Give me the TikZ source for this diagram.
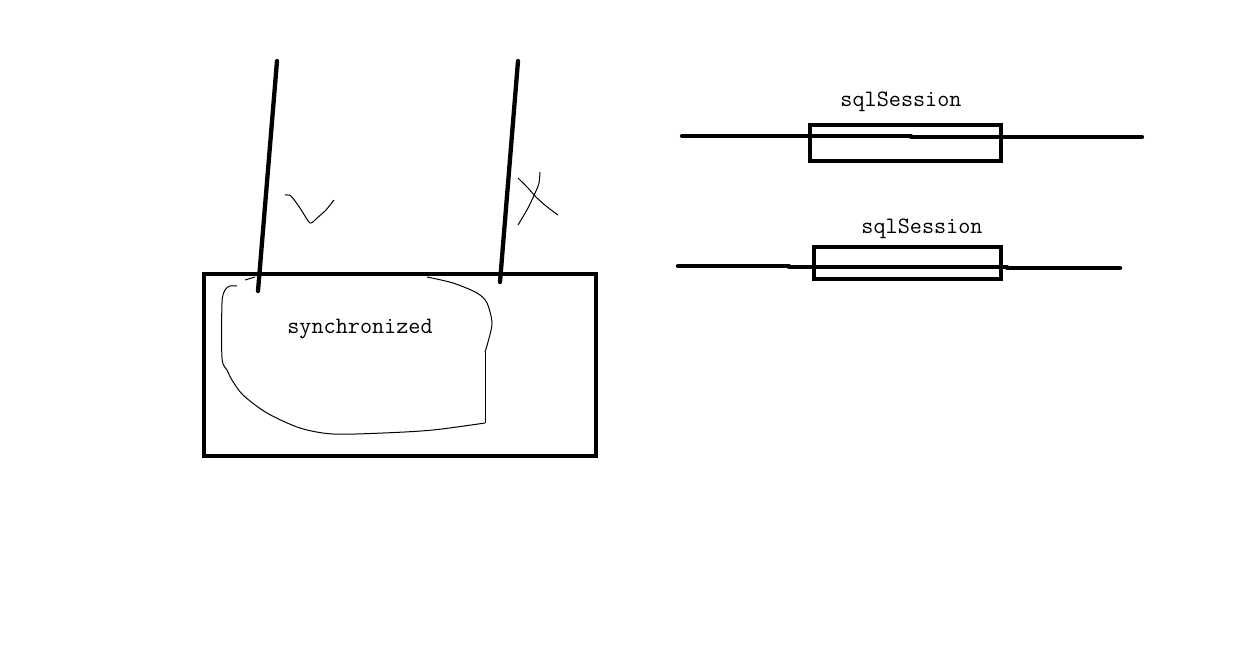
\documentclass[tikz,border=0pt]{standalone}
\usepackage{tikz}
\tikzset{%
  penA/.style={line width=4.3pt, line cap=round, black},
  penB/.style={line width=1pt, black},
  lbl/.style={inner sep=0pt, font=\ttfamily\fontsize{23.5}{26}\selectfont}
}
\begin{document}
\begin{tikzpicture}[x=1pt,y=-1pt]
\useasboundingbox (0,0) rectangle (1251,657);
\draw[penA, line cap=butt] (204,274) rectangle (596,456);
\draw[penA] (277,61) -- (258,291);
\draw[penA] (518,61) -- (500,282);
% tick and cross
\draw[penB] plot[smooth, tension=0.4] coordinates {(285,195) (291,196) (300,208) (310,223) (317,218) (326,210) (334,200)};
\draw[penB] plot[smooth, tension=0.5] coordinates {(540,172) (539,183) (536,191) (528,208) (518,225)};
\draw[penB] plot[smooth, tension=0.5] coordinates {(518,178) (528,188) (536,197) (546,206) (558,215)};
% the blob
\draw[penB] (245,280) -- (255,277);
\draw[penB] plot[smooth, tension=0.5] coordinates {(237,286) (230,286) (225,290) (222,303) (222,358) (227,370) (232,380) (243,395) (267,413) (300,428) (333,434) (383,433) (433,430) (485,423)};
\draw[penB] (485,423) -- (485,352);
\draw[penB] plot[smooth, tension=0.5] coordinates {(485,352) (488,342) (492,323) (487,303) (477,293) (453,283) (427,277)};
\node[lbl] (sync) at (360,329) {synchronized};
% sqlSession 1
\draw[penA, line cap=butt] (810,125) rectangle (1001,161);
\draw[penA] (682,136) -- (911,136);
\draw[penA] (911,137) -- (1142,137);
\node[lbl] (sesA) at (901,102) {sqlSession};
% sqlSession 2
\draw[penA, line cap=butt] (814,247) rectangle (1001,279);
\draw[penA] (678,266) -- (789,266);
\draw[penA] (789,267) -- (1007,267);
\draw[penA] (1007,268) -- (1120,268);
\node[lbl] (sesB) at (922,229) {sqlSession};
\end{tikzpicture}
\end{document}
